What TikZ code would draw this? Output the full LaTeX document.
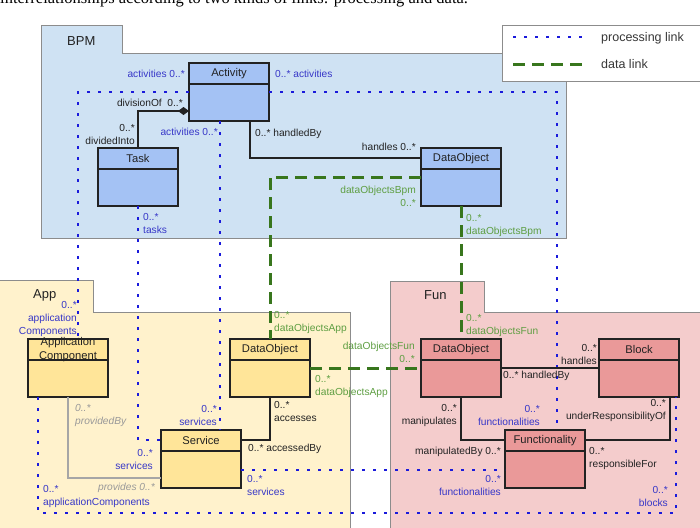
\documentclass[tikz,border=0pt]{standalone}
\usepackage{fontspec}
\setmainfont{Liberation Sans}
\newfontfamily\capfont{Liberation Serif}
\usetikzlibrary{arrows.meta}
\definecolor{bpmpkg}{HTML}{CFE2F3}
\definecolor{bpmcls}{HTML}{A4C2F4}
\definecolor{apppkg}{HTML}{FFF2CC}
\definecolor{appcls}{HTML}{FFE599}
\definecolor{funpkg}{HTML}{F4CCCC}
\definecolor{funcls}{HTML}{EA9999}
\definecolor{procblue}{HTML}{1A1ADB}
\definecolor{proclbl}{HTML}{3737C8}
\definecolor{datagreen}{HTML}{38761D}
\definecolor{datalbl}{HTML}{5E9E42}
\definecolor{pkgline}{HTML}{8C8C8C}
\definecolor{txt}{HTML}{222222}
\newcommand\mkclass[5]{%
  \node[cls, fill=#4] (#1) at (#2,#3) {};
  \draw[sepline] ([yshift=-21pt]#1.north west) -- ([yshift=-21pt]#1.north east);
  \node[clstitle] (#1T) at ([yshift=-10.5pt]#1.north) {#5};
}
\begin{document}
\begin{tikzpicture}[x=1pt,y=-1pt,
  pkg/.style={draw=pkgline, line width=1pt},
  pkgname/.style={font=\fontsize{13}{15}\selectfont, text=txt, inner sep=0pt},
  cls/.style={draw=txt, line width=1.3pt, minimum width=80pt, minimum height=58pt, anchor=north west, inner sep=0pt, outer sep=0pt},
  clstitle/.style={font=\fontsize{11.2}{13.5}\selectfont, text=txt, inner sep=0pt, align=center},
  sepline/.style={draw=txt, line width=1.1pt},
  proc/.style={draw=procblue, line width=2.6pt, dash pattern=on 2.6pt off 8.4pt},
  data/.style={draw=datagreen, line width=3pt, dash pattern=on 12pt off 7pt},
  assoc/.style={draw=txt, line width=1.2pt},
  prov/.style={draw=black!35, line width=1.5pt},
  lbl/.style={font=\fontsize{10.2}{13}\selectfont, inner sep=0pt},
  plbl/.style={lbl, text=proclbl},
  dlbl/.style={lbl, text=datalbl},
  albl/.style={lbl, text=txt},
  glbl/.style={lbl, text=black!40, font=\fontsize{10.2}{13}\selectfont\itshape},
  legtxt/.style={font=\fontsize{12.5}{15}\selectfont, text=txt!90, inner sep=0pt},
  capt/.style={font=\capfont\fontsize{16.5}{18}\selectfont, inner sep=0pt}
]
\useasboundingbox (0,0) rectangle (700,527);

% caption (cut off at top, as in the reference)
\node[capt, anchor=base west] (caption) at (0,4) {interrelationships according to two kinds of links: processing and data.};

% packages
\draw[pkg, fill=bpmpkg] (41,26) -- (122,26) -- (122,53) -- (566,53) -- (566,238) -- (41,238) -- cycle;
\draw[pkg, fill=apppkg] (-1,280) -- (93,280) -- (93,312) -- (350,312) -- (350,535) -- (-1,535) -- cycle;
\draw[pkg, fill=funpkg] (390,281) -- (484,281) -- (484,312) -- (705,312) -- (705,535) -- (390,535) -- cycle;
\node[pkgname, anchor=west] (bpmN) at (67,41) {BPM};
\node[pkgname, anchor=west] (appN) at (33,295) {App};
\node[pkgname, anchor=west] (funN) at (424,295) {Fun};

% legend
\node[draw=black!45, fill=white, line width=0.9pt, minimum width=205pt, minimum height=56pt, anchor=north west, inner sep=0pt] (legend) at (502,25) {};
\coordinate (lgA) at (513,37); \coordinate (lgB) at (584,37);
\coordinate (lgC) at (513,64); \coordinate (lgD) at (584,64);
\draw[proc] (lgA) -- (lgB);
\draw[data] (lgC) -- (lgD);
\node[legtxt, anchor=west] (lgP) at (601,38) {processing link};
\node[legtxt, anchor=west] (lgQ) at (601,64) {data link};

% classes
\mkclass{act}{189}{63}{bpmcls}{Activity}
\mkclass{task}{98}{148}{bpmcls}{Task}
\mkclass{dob}{421}{148}{bpmcls}{DataObject}
\mkclass{appc}{28}{339}{appcls}{Application\\Component}
\mkclass{doa}{230}{339}{appcls}{DataObject}
\mkclass{svc}{161}{430}{appcls}{Service}
\mkclass{dof}{421}{339}{funcls}{DataObject}
\mkclass{blk}{599}{339}{funcls}{Block}
\mkclass{fn}{505}{430}{funcls}{Functionality}

\coordinate (bot) at (0,513);

% processing links
\draw[proc] (act.west) -| ([xshift=10pt]appc.north);
\draw[proc] ([xshift=-9pt]act.south) -- ([xshift=-9pt]act.south |- svc.north);
\draw[proc] (task.south) |- ([yshift=-10pt]svc.north west);
\draw[proc] (act.east) -| ([xshift=12pt]fn.north);
\draw[proc] ([xshift=10pt]appc.south west) -- ([xshift=10pt]appc.south west |- bot) -| ([xshift=-3pt]blk.south east);
\draw[proc] ([yshift=-40pt]svc.north east) -- ([yshift=-40pt]svc.north east -| fn.west);

% data links
\draw[data] (dob.west) -| (doa.north);
\draw[data] (dob.south) -- (dof.north);
\draw[data] (doa.east) -- (dof.west);

% associations
\draw[assoc, {Diamond[length=11pt,width=8pt]}-] ([yshift=-48pt]act.north west) -| (task.north);
\draw[assoc] ([xshift=21pt]act.south) |- ([yshift=-10pt]dob.north west);
\draw[prov] (appc.south) |- ([yshift=-48pt]svc.north west);
\draw[assoc] (doa.south) |- ([yshift=-10pt]svc.north east);
\draw[assoc] (dof.east) -- (blk.west);
\draw[assoc] (dof.south) |- ([yshift=-10pt]fn.north west);
\draw[assoc] ([xshift=-9pt]blk.south east) |- ([yshift=-10pt]fn.north east);

% labels BPM
\node[plbl, anchor=east] (l1a) at (185,74) {activities 0..*};
\node[plbl, anchor=west] (l4a) at (275,74) {0..* activities};
\node[albl, anchor=east] (l10a) at (183,103) {divisionOf\ \ 0..*};
\node[albl, anchor=east, align=right] (l10b) at (135,134) {0..*\\dividedInto};
\node[plbl, anchor=east] (l2a) at (218,132) {activities 0..*};
\node[albl, anchor=west] (l11a) at (255,134) {0..* handledBy};
\node[albl, anchor=east] (l11b) at (416,147) {handles 0..*};
\node[dlbl, anchor=east, align=right] (l7a) at (416,196) {dataObjectsBpm\\0..*};
\node[dlbl, anchor=west, align=left] (l8a) at (466,225) {0..*\\dataObjectsBpm};
\node[plbl, anchor=west, align=left] (l3a) at (143,223) {0..*\\tasks};

% labels App
\node[plbl, anchor=east, align=right] (l1b) at (77,319) {0..*\\application\\Components};
\node[glbl, anchor=west, align=left] (l12a) at (75,415) {0..*\\providedBy};
\node[plbl, anchor=east, align=right] (l2b) at (217,415) {0..*\\services};
\node[plbl, anchor=east, align=right] (l3b) at (153,459) {0..*\\services};
\node[glbl, anchor=east] (l12b) at (155,488) {provides 0..*};
\node[plbl, anchor=west, align=left] (l5a) at (43,496) {0..*\\applicationComponents};
\node[dlbl, anchor=west, align=left] (l7b) at (274,322) {0..*\\dataObjectsApp};
\node[dlbl, anchor=west, align=left] (l9a) at (315,386) {0..*\\dataObjectsApp};
\node[dlbl, anchor=east, align=right] (l9b) at (415,352) {dataObjectsFun\\0..*};
\node[albl, anchor=west, align=left] (l13a) at (274,411) {0..*\\accesses};
\node[albl, anchor=west] (l13b) at (248,449) {0..* accessedBy};
\node[plbl, anchor=west, align=left] (l6a) at (247,485) {0..*\\services};

% labels Fun
\node[dlbl, anchor=west, align=left] (l8b) at (466,325) {0..*\\dataObjectsFun};
\node[albl, anchor=east, align=right] (l14b) at (597,354) {0..*\\handles};
\node[albl, anchor=west] (l14a) at (503,376) {0..* handledBy};
\node[albl, anchor=east, align=right] (l15a) at (457,415) {0..*\\manipulates};
\node[plbl, anchor=east, align=right] (l4b) at (540,415) {0..*\\functionalities};
\node[albl, anchor=east, align=right] (l16a) at (666,410) {0..*\\underResponsibilityOf};
\node[albl, anchor=east] (l15b) at (501,452) {manipulatedBy 0..*};
\node[albl, anchor=west, align=left] (l16b) at (589,458) {0..*\\responsibleFor};
\node[plbl, anchor=east, align=right] (l6b) at (501,485) {0..*\\functionalities};
\node[plbl, anchor=east, align=right] (l5b) at (668,496) {0..*\\blocks};
\end{tikzpicture}
\end{document}
